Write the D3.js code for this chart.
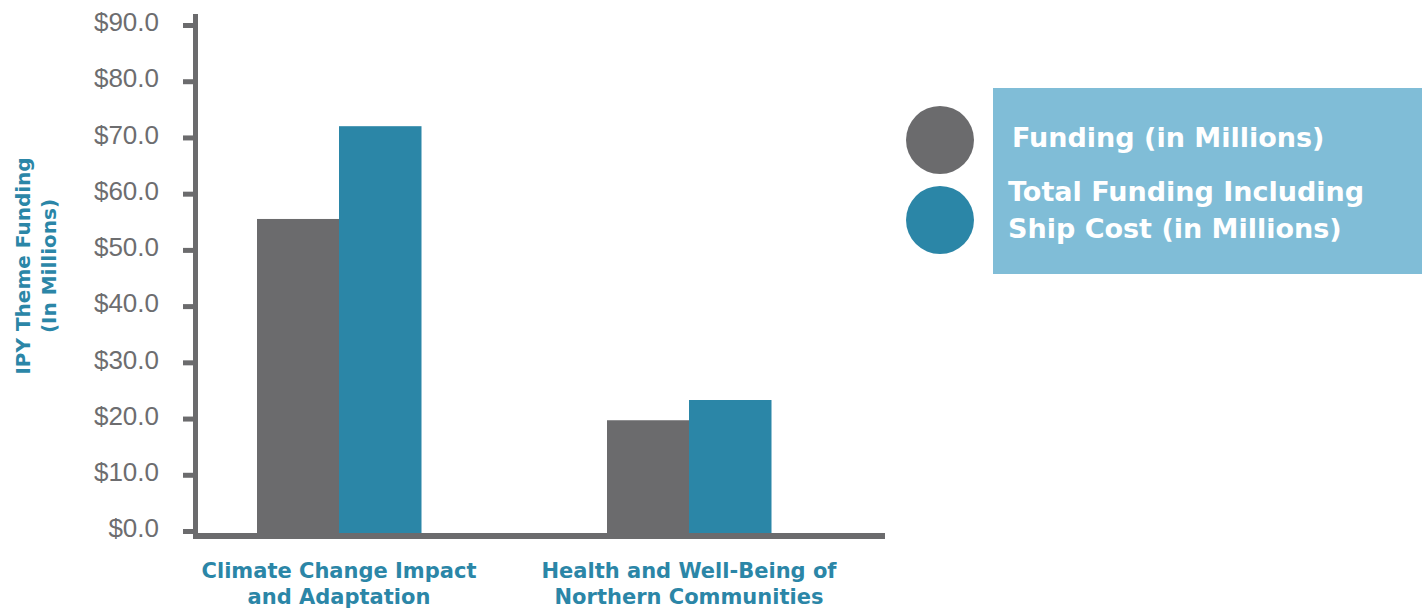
<!DOCTYPE html>
<html>
<head>
<meta charset="utf-8">
<script src="https://cdn.jsdelivr.net/npm/d3@7"></script>
<style>
  html, body { margin: 0; padding: 0; background: #ffffff; }
  svg { display: block; }
</style>
</head>
<body>
<svg id="chart" width="1428" height="611"></svg>
<script>
// ---- data ----
const categories = [
  ["Climate Change Impact", "and Adaptation"],
  ["Health and Well-Being of", "Northern Communities"]
];
const categoryKeys = ["Climate Change Impact and Adaptation", "Health and Well-Being of Northern Communities"];
const seriesNames = ["Funding (in Millions)", "Total Funding Including Ship Cost (in Millions)"];
const legendLines = [["Funding (in Millions)"], ["Total Funding Including", "Ship Cost (in Millions)"]];
const fundingValues = [55.5, 19.7];
const totalValues = [72.0, 23.3];
const yTicks = [0, 10, 20, 30, 40, 50, 60, 70, 80, 90];
const yTitle = ["IPY Theme Funding", "(In Millions)"];

// ---- styles ----
const GRAY = "#6b6b6d";
const BLUE = "#2b86a7";
const LEGEND_BG = "#80bdd7";
const svg = d3.select("#chart");

const y = d3.scaleLinear().domain([0, 90]).range([531, 25]);
const x0 = d3.scaleBand().domain(categoryKeys).range([164, 864]).paddingInner(0).paddingOuter(0);
const x1 = d3.scaleBand().domain(seriesNames).range([-82, 82]);
const color = d3.scaleOrdinal().domain(seriesNames).range([GRAY, BLUE]);

const seriesData = [fundingValues, totalValues];

// bars
const groups = svg.append("g").selectAll("g")
  .data(categoryKeys)
  .join("g")
  .attr("transform", d => `translate(${x0(d) + x0.bandwidth() / 2},0)`);

groups.selectAll("rect")
  .data((d, i) => seriesNames.map((s, j) => ({ s, v: seriesData[j][i] })))
  .join("rect")
  .attr("x", d => x1(d.s))
  .attr("width", x1.bandwidth() + 0.5)
  .attr("y", d => y(d.v))
  .attr("height", d => y(0) - y(d.v) + 3)
  .attr("fill", d => color(d.s));

// y axis ticks + labels
const yAxis = d3.axisLeft(y)
  .tickValues(yTicks)
  .tickSize(12)
  .tickSizeOuter(0)
  .tickPadding(24)
  .tickFormat(d => "$" + d.toFixed(1));

const yg = svg.append("g").attr("transform", "translate(195,0)").call(yAxis);
yg.select(".domain").remove();
yg.selectAll(".tick line").attr("stroke", GRAY).attr("stroke-width", 5);
yg.selectAll(".tick text")
  .attr("fill", "#6d6d6f")
  .attr("dy", "0.22em")
  .style("font-family", "'Liberation Sans', Arial, sans-serif")
  .style("font-size", "26px");

// axis lines
svg.append("line").attr("x1", 195.5).attr("x2", 195.5).attr("y1", 14).attr("y2", 539)
  .attr("stroke", GRAY).attr("stroke-width", 5);
svg.append("line").attr("x1", 193).attr("x2", 885).attr("y1", 536).attr("y2", 536)
  .attr("stroke", GRAY).attr("stroke-width", 6);

// x labels
const xl = svg.append("g").selectAll("text")
  .data(categoryKeys)
  .join("text")
  .attr("text-anchor", "middle")
  .attr("fill", BLUE)
  .style("font-family", "'DejaVu Sans', sans-serif")
  .style("font-weight", "bold")
  .style("font-size", "21px");
xl.each(function(d, i) {
  const t = d3.select(this);
  categories[i].forEach((line, k) => {
    t.append("tspan")
      .attr("x", x0(d) + x0.bandwidth() / 2)
      .attr("y", 578 + k * 26)
      .text(line);
  });
});

// y title
const yt = svg.append("text")
  .attr("transform", "translate(0,266) rotate(-90)")
  .attr("text-anchor", "middle")
  .attr("fill", BLUE)
  .style("font-family", "'DejaVu Sans', sans-serif")
  .style("font-weight", "bold")
  .style("font-size", "20px");
yTitle.forEach((line, k) => {
  yt.append("tspan").attr("x", 0).attr("y", 30 + k * 26).text(line);
});

// legend
svg.append("rect").attr("x", 993).attr("y", 88).attr("width", 429).attr("height", 186).attr("fill", LEGEND_BG);
const legendCy = [140, 220];
seriesNames.forEach((s, i) => {
  svg.append("circle").attr("cx", 940).attr("cy", legendCy[i]).attr("r", 34).attr("fill", color(s));
});
const legendBaselines = [[147], [201, 238]];
const legendX = [1012, 1008];
legendLines.forEach((lines, i) => {
  const t = svg.append("text")
    .attr("fill", "#ffffff")
    .style("font-family", "'DejaVu Sans', sans-serif")
    .style("font-weight", "bold")
    .style("font-size", "27px");
  lines.forEach((line, k) => {
    t.append("tspan").attr("x", legendX[i]).attr("y", legendBaselines[i][k]).text(line);
  });
});
</script>
</body>
</html>
